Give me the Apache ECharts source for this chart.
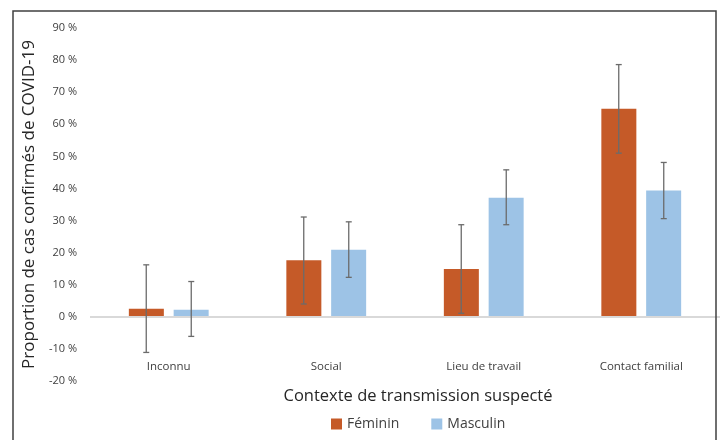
<!DOCTYPE html>
<html>
<head>
<meta charset="utf-8">
<script src="https://cdn.jsdelivr.net/npm/echarts@6/dist/echarts.min.js"></script>
<style>
    html, body { margin: 0; padding: 0; background: #fff; }
    #chart { width: 722px; height: 440px; }
</style>
</head>
<body>
<div id="chart"></div>
<script>
// contexte de transmission
var categories = ['Inconnu', 'Social', 'Lieu de travail', 'Contact familial']
// proportions (%) et intervalles de confiance
var feminin = [2.5, 17.6, 14.9, 64.8]
var femininLow = [-11.1, 4.0, 1.1, 51.0]
var femininHigh = [16.2, 31.1, 28.7, 78.6]
var masculin = [2.2, 20.9, 37.1, 39.4]
var masculinLow = [-6.1, 12.3, 28.7, 30.6]
var masculinHigh = [11.0, 29.6, 45.8, 48.1]

var chart = echarts.init(document.getElementById('chart'))

function errorBars(low, high, shift) {
    var data = low.map(function (v, i) { return [i, v, high[i]] })
    return {
        type: 'custom',
        z: 5,
        silent: true,
        data: data,
        encode: { x: 0, y: [1, 2] },
        renderItem: function (params, api) {
            var lo = api.coord([api.value(0), api.value(1)])
            var hi = api.coord([api.value(0), api.value(2)])
            var x = lo[0] + shift
            var cap = 3
            var style = { stroke: '#6b6b6b', lineWidth: 1.3 }
            return {
                type: 'group',
                children: [
                    { type: 'line', shape: { x1: x, y1: lo[1], x2: x, y2: hi[1] }, style: style },
                    { type: 'line', shape: { x1: x - cap, y1: lo[1], x2: x + cap, y2: lo[1] }, style: style },
                    { type: 'line', shape: { x1: x - cap, y1: hi[1], x2: x + cap, y2: hi[1] }, style: style }
                ]
            }
        }
    }
}

chart.setOption({
    textStyle: { fontFamily: 'Open Sans' },
    color: ['#C55A28', '#9DC3E6'],
    graphic: [{
        type: 'rect',
        shape: { x: 13, y: 11, width: 703, height: 440 },
        style: { fill: 'none', stroke: '#404040', lineWidth: 1.5 },
        z: 10
    }],
    grid: { left: 90, top: 28, width: 630, height: 353 },
    legend: {
        bottom: 4,
        left: 326,
        itemWidth: 11,
        itemHeight: 11,
        itemGap: 32,
        icon: 'rect',
        data: ['Féminin', 'Masculin'],
        textStyle: { color: '#404040', fontSize: 14 }
    },
    xAxis: {
        type: 'category',
        data: categories,
        axisLine: { show: false },
        axisTick: { show: false },
        axisLabel: { color: '#404040', fontSize: 11.5, margin: -20 },
        name: 'Contexte de transmission suspecté',
        nameLocation: 'middle',
        nameGap: 7,
        nameTextStyle: { color: '#262626', fontSize: 16.5, padding: [0, 0, 0, 26] }
    },
    yAxis: {
        type: 'value',
        min: -20,
        max: 90,
        interval: 10,
        axisLine: { show: false },
        axisTick: { show: false },
        splitLine: { show: false },
        axisLabel: { color: '#404040', fontSize: 11, margin: 13, formatter: '{value} %' },
        name: 'Proportion de cas confirmés de COVID-19',
        nameLocation: 'middle',
        nameRotate: 90,
        nameGap: 48,
        nameTextStyle: { color: '#262626', fontSize: 17 }
    },
    series: [
        {
            name: 'Féminin',
            type: 'bar',
            barWidth: 35,
            barGap: '28%',
            data: feminin,
            markLine: {
                silent: true,
                symbol: 'none',
                label: { show: false },
                lineStyle: { color: '#d9d9d9', width: 2, type: 'solid' },
                data: [{ yAxis: 0 }]
            }
        },
        {
            name: 'Masculin',
            type: 'bar',
            barWidth: 35,
            barGap: '28%',
            data: masculin
        },
        errorBars(femininLow, femininHigh, -22.5),
        errorBars(masculinLow, masculinHigh, 22.5)
    ]
})
</script>
</body>
</html>
